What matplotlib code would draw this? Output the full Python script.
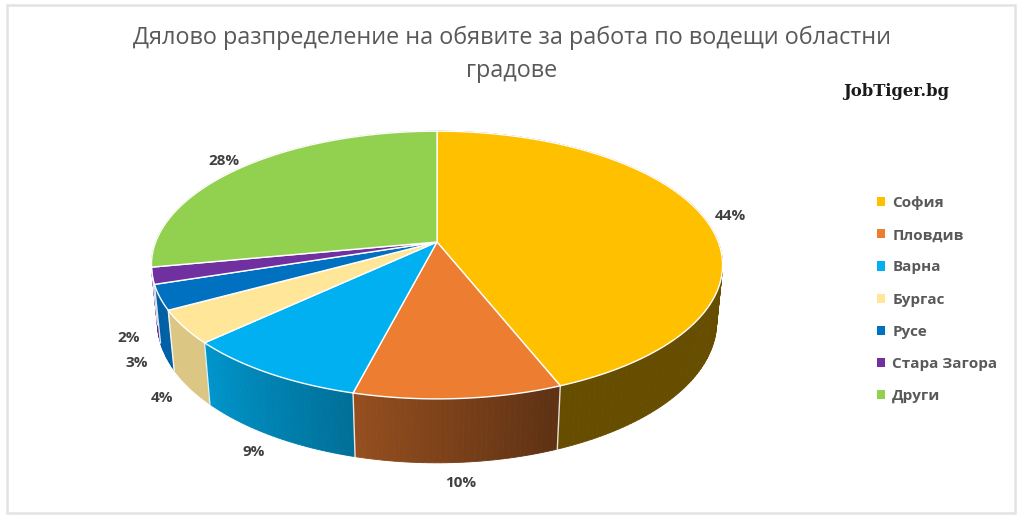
import numpy as np
import matplotlib
matplotlib.use("Agg")
import matplotlib.pyplot as plt
from matplotlib.patches import Polygon, Rectangle
from matplotlib.colors import to_rgb

plt.rcParams["font.family"] = ["Open Sans", "DejaVu Sans"]

# Данни
cities = ["София", "Пловдив", "Варна", "Бургас", "Русе", "Стара Загора", "Други"]
shares = [44, 10, 9, 4, 3, 2, 28]
colors = ["#FFC000", "#ED7D31", "#00B0F0", "#FFE699", "#0070C0", "#7030A0", "#92D050"]
title = "Дялово разпределение на обявите за работа по водещи областни\nградове"

# Перспективна проекция на 3D пай (пиксели)
CX, CY = 437, 242
F, R, D = 1450.0, 0.194, 1.0
PHI = np.radians(27.5)
H = 0.0447


def project(theta, z, k=1.0):
    x = k * R * np.cos(theta)
    y = k * R * np.sin(theta)
    up = z * np.cos(PHI) + y * np.sin(PHI)
    fwd = D + y * np.cos(PHI) - z * np.sin(PHI)
    return CX + F * x / fwd, CY - F * up / fwd


def shade(theta_deg):
    f = 0.63 - 0.0068 * (theta_deg + 104)
    return float(np.clip(f, 0.4, 0.86))


fig = plt.figure(figsize=(10.24, 5.21), dpi=100)
ax = fig.add_axes([0, 0, 1, 1])
ax.set_xlim(0, 1024)
ax.set_ylim(521, 0)
ax.axis("off")

# рамка
ax.add_patch(Rectangle((7, 5), 1008, 508, fill=False, ec="#E3E3E3", lw=1.8))

fracs = np.array(shares) / sum(shares)
starts = 90 - 360 * np.concatenate([[0], np.cumsum(fracs)[:-1]])
ends = starts - 360 * fracs

# странични стени - ленти, от задни към предни
strips = []
for i, (a, b) in enumerate(zip(starts, ends)):
    n = max(int(abs(a - b)), 2)
    edges = np.linspace(a, b, n + 1)
    for t0, t1 in zip(edges[:-1], edges[1:]):
        tm = 0.5 * (t0 + t1)
        strips.append((np.sin(np.radians(tm)), i, t0, t1))
strips.sort(key=lambda s: -s[0])
for _, i, t0, t1 in strips:
    ts = np.radians(np.linspace(t0, t1, 4))
    xt, yt = project(ts, 0.0)
    xb, yb = project(ts[::-1], -H)
    rgb = np.array(to_rgb(colors[i])) * shade(0.5 * (t0 + t1))
    ax.add_patch(Polygon(np.column_stack([np.r_[xt, xb], np.r_[yt, yb]]),
                         closed=True, fc=rgb, ec=rgb, lw=0.6))

# бели линии на границите на стените (видимите)
for a in starts:
    t = np.radians(a)
    if np.sin(t) < -0.15:
        x0, y0 = project(t, 0.0)
        x1, y1 = project(t, -H)
        ax.plot([x0, x1], [y0, y1], color="white", lw=1.0, alpha=0.85)

# горни повърхности
tops = []
for i, (a, b) in enumerate(zip(starts, ends)):
    ts = np.radians(np.linspace(a, b, 200))
    xs, ys = project(ts, 0.0)
    pts = np.column_stack([np.r_[CX, xs], np.r_[CY, ys]])
    p = Polygon(pts, closed=True, fc=colors[i], ec="white", lw=1.0, joinstyle="round")
    ax.add_patch(p)
    tops.append(p)

# етикети с проценти
for i, (a, b) in enumerate(zip(starts, ends)):
    tm = np.radians(0.5 * (a + b))
    z = 0.0 if np.sin(tm) >= 0 else -H
    lx, ly = project(tm, z, k=1.1)
    ax.text(lx, ly, f"{shares[i]}%", ha="center", va="center",
            fontsize=11, fontweight="bold", color="#404040")

# заглавие
ax.text(512, 54, title, ha="center", va="center", fontsize=16.8,
        color="#595959", linespacing=1.5)
ax.text(896, 91, "JobTiger.bg", ha="center", va="center", fontsize=11.8,
        fontweight="bold", family="DejaVu Serif", color="#1a1a1a")

# легенда
leg = ax.legend(tops, cities, loc="upper left", bbox_to_anchor=(0.843, 0.65),
                frameon=False, handlelength=0.55, handleheight=0.55,
                handletextpad=0.45, labelspacing=1.19,
                prop={"size": 11, "weight": "bold"})
for txt in leg.get_texts():
    txt.set_color("#595959")
for hnd in leg.legend_handles:
    hnd.set_edgecolor("none")

fig.savefig("out.png", dpi=100)
